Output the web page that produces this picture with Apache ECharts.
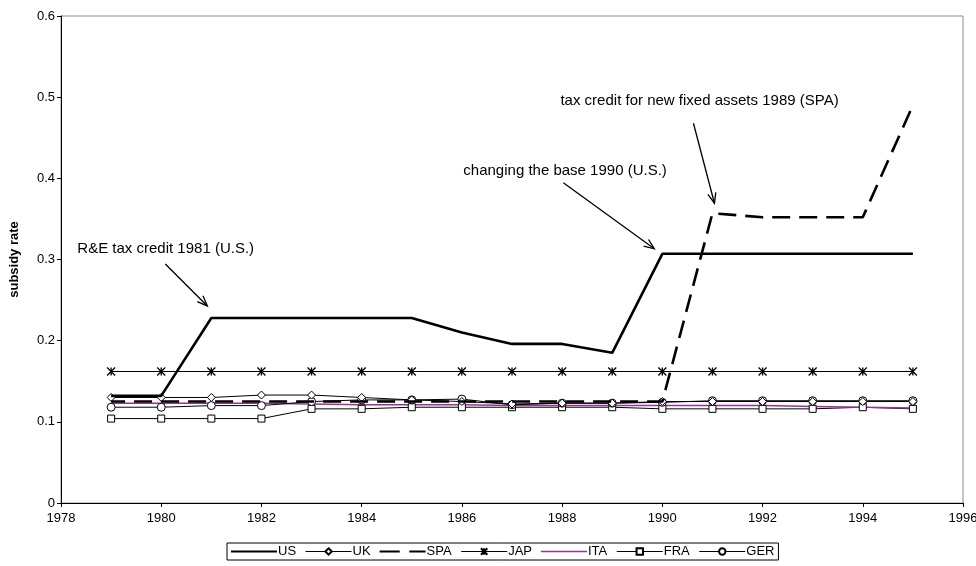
<!DOCTYPE html>
<html>
<head>
<meta charset="utf-8">
<script src="https://cdn.jsdelivr.net/npm/echarts@6/dist/echarts.min.js"></script>
<style>
  html, body { margin: 0; padding: 0; background: #fff; }
  #chart { width: 976px; height: 566px; }
</style>
</head>
<body>
<div id="chart"></div>
<script>
// Years of observation
const years = [1979, 1980, 1981, 1982, 1983, 1984, 1985, 1986, 1987, 1988, 1989, 1990, 1991, 1992, 1993, 1994, 1995];

// R&D subsidy rate by country
const US  = [0.132, 0.132, 0.228, 0.228, 0.228, 0.228, 0.228, 0.210, 0.196, 0.196, 0.185, 0.307, 0.307, 0.307, 0.307, 0.307, 0.307];
const UK  = [0.130, 0.130, 0.130, 0.133, 0.133, 0.130, 0.127, 0.125, 0.122, 0.123, 0.123, 0.125, 0.125, 0.125, 0.125, 0.125, 0.125];
const SPA = [0.125, 0.125, 0.125, 0.125, 0.125, 0.125, 0.125, 0.125, 0.125, 0.125, 0.125, 0.125, 0.357, 0.352, 0.352, 0.352, 0.490];
const JAP = [0.162, 0.162, 0.162, 0.162, 0.162, 0.162, 0.162, 0.162, 0.162, 0.162, 0.162, 0.162, 0.162, 0.162, 0.162, 0.162, 0.162];
const ITA = [0.123, 0.123, 0.123, 0.123, 0.122, 0.121, 0.121, 0.121, 0.120, 0.120, 0.120, 0.120, 0.120, 0.120, 0.119, 0.118, 0.117];
const FRA = [0.104, 0.104, 0.104, 0.104, 0.116, 0.116, 0.118, 0.118, 0.118, 0.118, 0.118, 0.116, 0.116, 0.116, 0.116, 0.118, 0.116];
const GER = [0.118, 0.118, 0.120, 0.120, 0.125, 0.127, 0.127, 0.128, 0.121, 0.123, 0.123, 0.124, 0.126, 0.126, 0.126, 0.126, 0.126];

// Axis ticks
const xTicks = [1978, 1980, 1982, 1984, 1986, 1988, 1990, 1992, 1994, 1996];
const yTicks = [0, 0.1, 0.2, 0.3, 0.4, 0.5, 0.6];

// Annotation texts
const noteRE   = 'R&E tax credit 1981 (U.S.)';
const noteBase = 'changing the base 1990 (U.S.)';
const noteSPA  = 'tax credit for new fixed assets 1989 (SPA)';

const FONT = '"Liberation Sans", Arial, sans-serif';
const pairs = arr => years.map((y, i) => [y, arr[i]]);

const hollow = { color: '#fff', borderColor: '#000', borderWidth: 1 };
const starPath = 'path://M0,-1L0,1M-1,-1L1,1M-1,1L1,-1';

// Legend keys drawn as plain line samples (box 48 x 8)
const keySolidThick = 'path://M0,0L0.01,0L0,0ZM0,2.9L48,2.9L48,5.1L0,5.1ZM0,8L0.01,8L0,8Z';
const keyDashThick  = 'path://M0,0L0.01,0L0,0ZM0,2.9L21,2.9L21,5.1L0,5.1ZM31,2.9L48,2.9L48,5.1L31,5.1ZM0,8L0.01,8L0,8Z';
const keySolidThin  = 'path://M0,0L0.01,0L0,0ZM0,3.3L48,3.3L48,4.7L0,4.7ZM0,8L0.01,8L0,8Z';

const chart = echarts.init(document.getElementById('chart'), null, { renderer: 'canvas' });

const option = {
  animation: false,
  backgroundColor: '#fff',
  textStyle: { fontFamily: FONT },
  grid: {
    left: 61, right: 13, top: 16, bottom: 63,
    outerBoundsMode: 'none',
    containLabel: false,
    show: true, borderColor: '#8c8c8c', borderWidth: 1
  },
  xAxis: {
    type: 'value',
    min: xTicks[0], max: xTicks[xTicks.length - 1], interval: 2,
    axisLine: { lineStyle: { color: '#000', width: 1 } },
    axisTick: { show: true, length: 4, lineStyle: { color: '#000' } },
    splitLine: { show: false },
    axisLabel: { color: '#000', fontSize: 13, fontFamily: FONT, margin: 9, formatter: v => String(v) }
  },
  yAxis: {
    type: 'value',
    min: yTicks[0], max: yTicks[yTicks.length - 1], interval: 0.1,
    name: 'subsidy rate',
    nameLocation: 'middle',
    nameGap: 40,
    nameTextStyle: { color: '#000', fontSize: 13, fontWeight: 'bold', fontFamily: FONT },
    axisLine: { show: true, lineStyle: { color: '#000', width: 1 } },
    axisTick: { show: true, length: 4, lineStyle: { color: '#000' } },
    splitLine: { show: false },
    axisLabel: { color: '#000', fontSize: 13, fontFamily: FONT, margin: 6,
      formatter: v => (v === 0 ? '0' : String(Math.round(v * 10) / 10)) }
  },
  legend: {
    left: 227, top: 543,
    padding: [2, 4, 2, 4],
    itemGap: 9,
    itemWidth: 46,
    itemHeight: 8,
    borderColor: '#000',
    borderWidth: 1,
    lineStyle: { width: 1 },
    textStyle: { color: '#000', fontSize: 13, fontFamily: FONT, padding: [0, 0, 0, -4] },
    data: [
      { name: 'US', icon: keySolidThick },
      'UK',
      { name: 'SPA', icon: keyDashThick },
      'JAP',
      { name: 'ITA', icon: keySolidThin },
      'FRA',
      'GER'
    ]
  },
  series: [
    {
      name: 'FRA', type: 'line', data: pairs(FRA),
      symbol: 'rect', symbolSize: 7,
      lineStyle: { color: '#000', width: 1 }, itemStyle: hollow, z: 3
    },
    {
      name: 'ITA', type: 'line', data: pairs(ITA),
      symbol: 'none', showSymbol: false,
      lineStyle: { color: '#993399', width: 1.5 }, itemStyle: { color: '#993399' }, z: 3
    },
    {
      name: 'GER', type: 'line', data: pairs(GER),
      symbol: 'circle', symbolSize: 8,
      lineStyle: { color: '#000', width: 1 }, itemStyle: hollow, z: 4
    },
    {
      name: 'UK', type: 'line', data: pairs(UK),
      symbol: 'diamond', symbolSize: 8,
      lineStyle: { color: '#000', width: 1 }, itemStyle: hollow, z: 4
    },
    {
      name: 'JAP', type: 'line', data: pairs(JAP),
      symbol: starPath, symbolSize: 8,
      lineStyle: { color: '#000', width: 1 },
      itemStyle: { color: '#000', borderColor: '#000', borderWidth: 1.3 }, z: 4
    },
    {
      name: 'SPA', type: 'line', data: pairs(SPA),
      symbol: 'none', showSymbol: false,
      lineStyle: { color: '#000', width: 2.6, type: [18, 9], dashOffset: 4 }, itemStyle: { color: '#000' }, z: 5
    },
    {
      name: 'US', type: 'line', data: pairs(US),
      symbol: 'none', showSymbol: false,
      lineStyle: { color: '#000', width: 2.6 }, itemStyle: { color: '#000' }, z: 6
    }
  ]
};

chart.setOption(option);

// Annotation arrows pointing at data points
function arrow(tip, dx, dy) {
  const start = [tip[0] + dx, tip[1] + dy];
  const ang = Math.atan2(tip[1] - start[1], tip[0] - start[0]);
  const len = 11, spread = 0.38;
  const a1 = [tip[0] - len * Math.cos(ang - spread), tip[1] - len * Math.sin(ang - spread)];
  const a2 = [tip[0] - len * Math.cos(ang + spread), tip[1] - len * Math.sin(ang + spread)];
  return [
    { type: 'line', shape: { x1: start[0], y1: start[1], x2: tip[0], y2: tip[1] },
      style: { stroke: '#000', lineWidth: 1.3 }, z: 20 },
    { type: 'polyline', shape: { points: [a1, tip, a2] },
      style: { stroke: '#000', lineWidth: 1.3, fill: null }, z: 20 }
  ];
}
function label(text, x, y) {
  return { type: 'text', x: x, y: y, z: 20,
    style: { text: text, fill: '#000', font: '15px ' + FONT, textAlign: 'left', textVerticalAlign: 'middle' } };
}

const pUS81  = chart.convertToPixel({ gridIndex: 0 }, [years[2], US[2]]);
const pUS90  = chart.convertToPixel({ gridIndex: 0 }, [years[11], US[11]]);
const pSPA91 = chart.convertToPixel({ gridIndex: 0 }, [years[12], SPA[12]]);

const tipRE = [pUS81[0] - 4, pUS81[1] - 12];
const tipBase = [pUS90[0] - 8, pUS90[1] - 5];
const tipSPA = [pSPA91[0] + 2, pSPA91[1] - 10];

chart.setOption({
  graphic: [
    label(noteRE, tipRE[0] - 130, tipRE[1] - 57),
    ...arrow(tipRE, -42, -42),
    label(noteBase, tipBase[0] - 191, tipBase[1] - 78),
    ...arrow(tipBase, -91, -66),
    label(noteSPA, tipSPA[0] - 154, tipSPA[1] - 102),
    ...arrow(tipSPA, -21, -80)
  ]
});
</script>
</body>
</html>
